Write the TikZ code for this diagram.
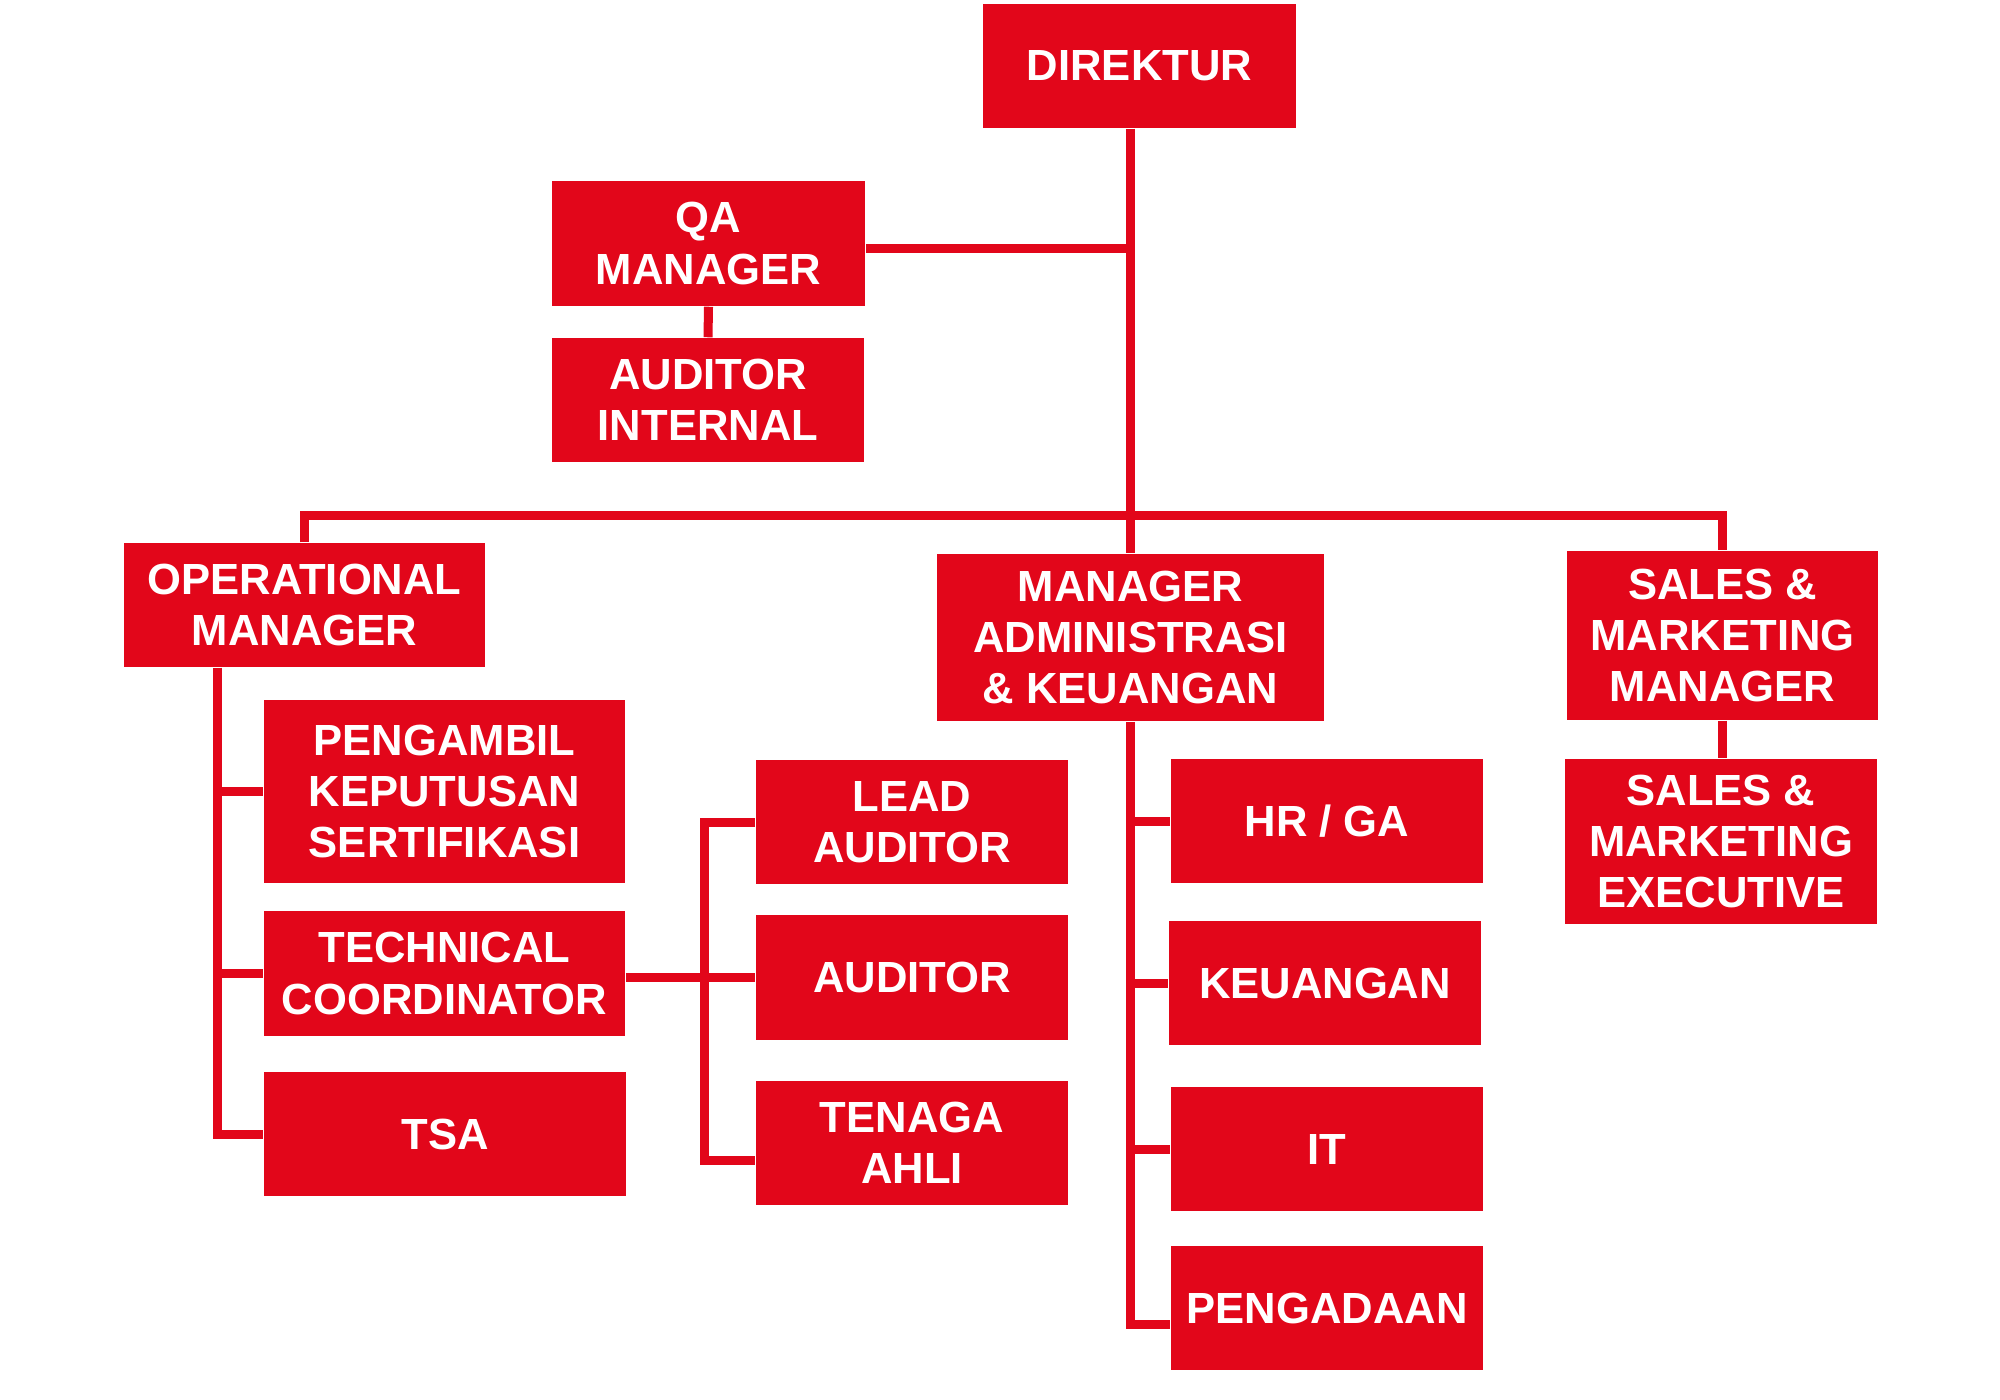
\documentclass[tikz,border=0pt]{standalone}
\usepackage{fontspec}
\setmainfont{Liberation Sans}
\definecolor{orgred}{RGB}{226,6,26}
\begin{document}
\begin{tikzpicture}[x=0.01cm, y=-0.01cm,
  box/.style={fill=orgred, text=white, font={\fontsize{12.4pt}{14.6pt}\selectfont\bfseries},
    align=center, inner sep=0pt, minimum width=3.12cm, minimum height=1.24cm},
  conn/.style={draw=orgred, line width=0.09cm}]
\useasboundingbox (0,0) rectangle (2000,1400);
% nodes
\node[box, minimum width=3.13cm] (dir) at (1139.5,66) {DIREKTUR};
\node[box, minimum width=3.13cm, minimum height=1.25cm] (qa) at (708.5,243.5) {QA\\MANAGER};
\node[box] (ai) at (708,400) {AUDITOR\\INTERNAL};
\node[box, minimum width=3.61cm] (op) at (304.5,605) {OPERATIONAL\\MANAGER};
\node[box, minimum width=3.87cm, minimum height=1.67cm] (adm) at (1130.5,637.5) {MANAGER\\ADMINISTRASI\\\& KEUANGAN};
\node[box, minimum width=3.11cm, minimum height=1.69cm] (smm) at (1722.5,635.5) {SALES \&\\MARKETING\\MANAGER};
\node[box, minimum height=1.65cm] (sme) at (1721,841.5) {SALES \&\\MARKETING\\EXECUTIVE};
\node[box, minimum width=3.61cm, minimum height=1.83cm] (pks) at (444.5,791.5) {PENGAMBIL\\KEPUTUSAN\\SERTIFIKASI};
\node[box, minimum width=3.61cm, minimum height=1.25cm] (tc) at (444.5,973.5) {TECHNICAL\\COORDINATOR};
\node[box, minimum width=3.62cm] (tsa) at (445,1134) {TSA};
\node[box] (lead) at (912,822) {LEAD\\AUDITOR};
\node[box, minimum height=1.25cm] (aud) at (912,977.5) {AUDITOR};
\node[box] (ten) at (912,1143) {TENAGA\\AHLI};
\node[box] (hr) at (1327,821) {HR / GA};
\node[box] (keu) at (1325,983) {KEUANGAN};
\node[box] (it) at (1327,1149) {IT};
\node[box] (pgd) at (1327,1308) {PENGADAAN};
% helper coordinates
\coordinate (bus) at (1130,515);
\coordinate (opv) at (217,667);
\coordinate (av) at (704,820);
\coordinate (tenb) at ([yshift=-0.17cm]ten.west);
\coordinate (pgdb) at ([yshift=-0.16cm]pgd.west);
\coordinate (qab) at ([yshift=-0.05cm]qa.east);
% connectors
\draw[conn] (dir.south -| adm.north) -- (adm.north);
\draw[conn] (qab) -- (qab -| adm.north);
\draw[conn] (qa.south) -- (ai.north);
\draw[conn] (op.north) |- (bus) -| (smm.north);
\draw[conn] (smm.south) -- (smm.south |- sme.north);
\draw[conn] (op.south -| opv) |- (tsa.west);
\draw[conn] (opv |- pks.west) -- (pks.west);
\draw[conn] (opv |- tc.west) -- (tc.west);
\draw[conn] (tc.east |- aud.west) -- (aud.west);
\draw[conn] (lead.west) -| (tenb -| av) -- (tenb);
\draw[conn] (adm.south) |- (pgdb);
\draw[conn] (adm.south |- hr.west) -- (hr.west);
\draw[conn] (adm.south |- keu.west) -- (keu.west);
\draw[conn] (adm.south |- it.west) -- (it.west);
\end{tikzpicture}
\end{document}
